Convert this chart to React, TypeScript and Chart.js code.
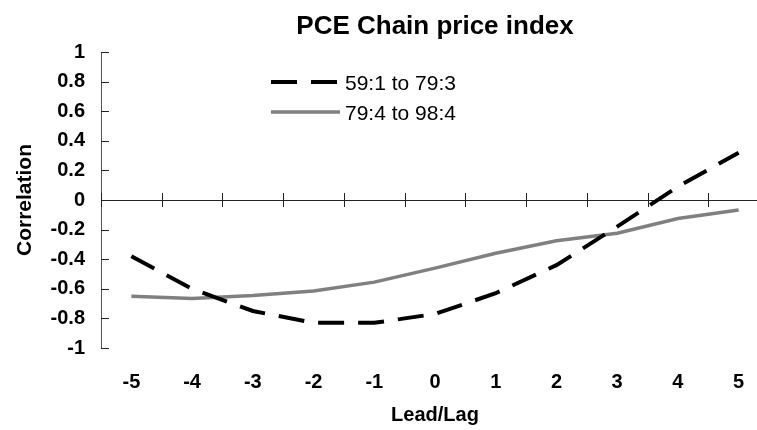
import React, { useEffect, useRef } from "react";
import { Chart, registerables } from "chart.js";

Chart.register(...registerables);

const chartTitle = "PCE Chain price index";
const lagLabels = ["-5", "-4", "-3", "-2", "-1", "0", "1", "2", "3", "4", "5"];
const seriesNames = ["59:1 to 79:3", "79:4 to 98:4"];
const early = [-0.38, -0.6, -0.75, -0.83, -0.83, -0.77, -0.63, -0.44, -0.18, 0.09, 0.32];
const late = [-0.65, -0.665, -0.645, -0.615, -0.555, -0.46, -0.36, -0.275, -0.225, -0.125, -0.068];
const yMin = -1;
const yMax = 1;
const yStep = 0.2;

const FONT = "'Liberation Sans', Arial, sans-serif";

const decorPlugin = {
  id: "decor",
  beforeDatasetsDraw(chart: any) {
    const { ctx, chartArea } = chart;
    const x = chart.scales.x;
    const y = chart.scales.y;
    const y0 = y.getPixelForValue(0);
    ctx.save();
    ctx.strokeStyle = "#222";
    ctx.lineWidth = 1;
    ctx.beginPath();
    ctx.moveTo(chartArea.left, Math.round(y0) + 0.5);
    ctx.lineTo(chartArea.right, Math.round(y0) + 0.5);
    ctx.stroke();
    const n = lagLabels.length;
    const step = x.getPixelForValue(1) - x.getPixelForValue(0);
    for (let i = 0; i <= n; i++) {
      const px = Math.round(x.getPixelForValue(0) - step / 2 + i * step) + 0.5;
      ctx.beginPath();
      ctx.moveTo(px, y0 - 7);
      ctx.lineTo(px, y0 + 7);
      ctx.stroke();
    }
    y.ticks.forEach((t: any) => {
      const py = Math.round(y.getPixelForValue(t.value)) + 0.5;
      ctx.beginPath();
      ctx.moveTo(chartArea.left, py);
      ctx.lineTo(chartArea.left + 8, py);
      ctx.stroke();
    });
    ctx.restore();
  },
  afterDraw(chart: any) {
    const { ctx, chartArea } = chart;
    ctx.save();
    ctx.fillStyle = "#000";
    ctx.font = `bold 26px ${FONT}`;
    ctx.textAlign = "center";
    ctx.textBaseline = "alphabetic";
    ctx.fillText(chartTitle, (chartArea.left + chartArea.right) / 2, 34);
    const rows = [82, 112];
    chart.data.datasets.forEach((ds: any, i: number) => {
      const ly = rows[i];
      ctx.strokeStyle = ds.borderColor;
      ctx.lineWidth = ds.borderWidth;
      ctx.setLineDash(ds.borderDash || []);
      ctx.lineCap = "butt";
      ctx.beginPath();
      ctx.moveTo(271, ly);
      ctx.lineTo(340, ly);
      ctx.stroke();
      ctx.setLineDash([]);
      ctx.fillStyle = "#000";
      ctx.font = `21px ${FONT}`;
      ctx.textAlign = "left";
      ctx.textBaseline = "middle";
      ctx.fillText(ds.label, 345, ly + 2);
    });
    ctx.restore();
  },
};

export default function App() {
  const ref = useRef<HTMLCanvasElement>(null);
  useEffect(() => {
    if (!ref.current) return;
    const chart = new Chart(ref.current, {
      type: "line",
      data: {
        labels: lagLabels,
        datasets: [
          {
            label: seriesNames[0],
            data: early,
            borderColor: "#000",
            borderWidth: 4,
            borderDash: [26, 14],
            pointRadius: 0,
            tension: 0,
            fill: false,
          },
          {
            label: seriesNames[1],
            data: late,
            borderColor: "#808080",
            borderWidth: 3.5,
            pointRadius: 0,
            tension: 0,
            fill: false,
          },
        ],
      },
      options: {
        animation: false,
        responsive: false,
        maintainAspectRatio: false,
        layout: { padding: { top: 52, right: 6, bottom: 0, left: 0 } },
        plugins: {
          legend: { display: false },
          title: { display: false },
          tooltip: { enabled: false },
        },
        scales: {
          x: {
            type: "category",
            offset: true,
            grid: { display: false, drawTicks: false },
            border: { display: false },
            ticks: {
              color: "#000",
              font: { family: FONT, size: 20, weight: "bold" },
              padding: 22,
              maxRotation: 0,
              autoSkip: false,
            },
            title: {
              display: true,
              text: "Lead/Lag",
              color: "#000",
              font: { family: FONT, size: 20, weight: "bold" },
              padding: { top: 0, bottom: 3 },
            },
            afterFit(scale: any) {
              scale.height = 82;
            },
          },
          y: {
            min: yMin,
            max: yMax,
            grid: { display: true, drawOnChartArea: false, drawTicks: false },
            border: { display: true, color: "#555", width: 1 },
            ticks: {
              stepSize: yStep,
              color: "#000",
              font: { family: FONT, size: 20, weight: "bold" },
              padding: 16,
              callback: (v: any) => String(Math.round(Number(v) * 10) / 10),
            },
            title: {
              display: true,
              text: "Correlation",
              color: "#000",
              font: { family: FONT, size: 21, weight: "bold" },
              padding: { top: 13, bottom: 0 },
            },
            afterFit(scale: any) {
              scale.width = 101;
            },
          },
        },
      },
      plugins: [decorPlugin],
    });
    return () => chart.destroy();
  }, []);
  return (
    <div
      style={{
        position: "fixed",
        left: 0,
        top: 0,
        width: 757,
        height: 430,
        overflow: "hidden",
        background: "#fff",
      }}
    >
      <canvas ref={ref} width={775} height={430} style={{ display: "block" }} />
    </div>
  );
}
